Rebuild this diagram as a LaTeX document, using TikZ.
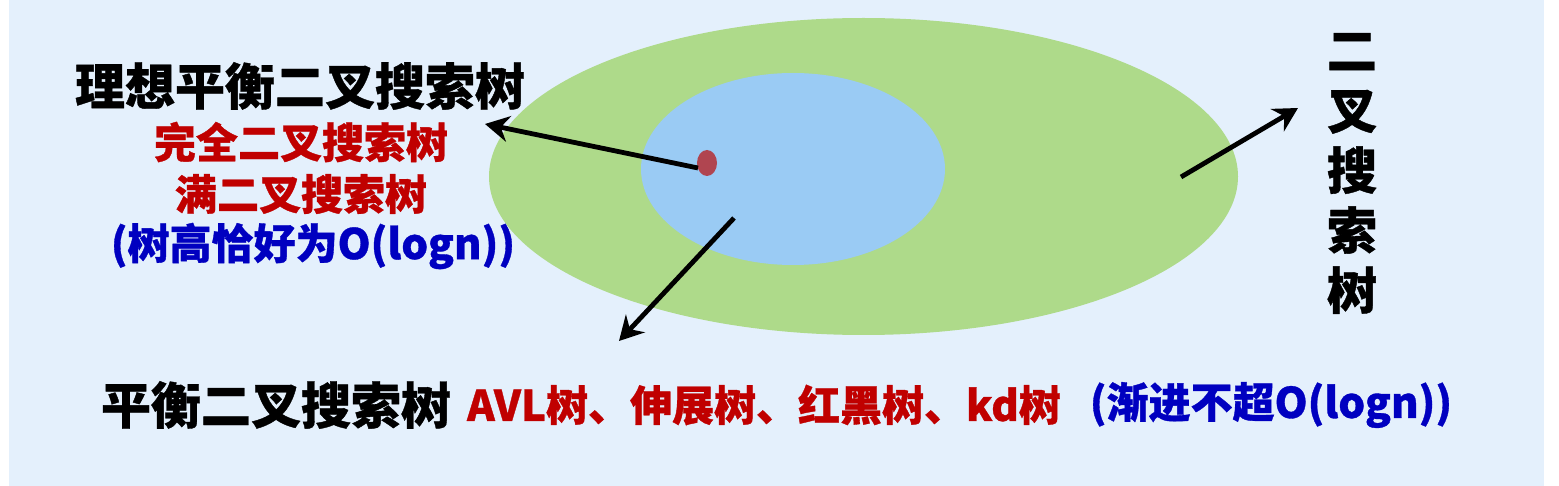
\documentclass[tikz,border=0pt]{standalone}
\usepackage{fontspec}
\setmainfont{Noto Sans CJK SC}[BoldFeatures={FakeBold=0.8}]
\usetikzlibrary{arrows.meta,shapes.geometric}
\definecolor{bgblue}{HTML}{E4F0FC}
\definecolor{outergreen}{HTML}{AEDA8A}
\definecolor{innerblue}{HTML}{9ACBF4}
\definecolor{dotred}{HTML}{B04550}
\definecolor{txtred}{HTML}{C00000}
\definecolor{txtblue}{HTML}{0000C0}
\tikzset{
  arr/.style={line width=2.4pt, -{Stealth[length=12pt,width=13pt,inset=4pt]}},
  bigtxt/.style={font=\fontsize{25}{30}\selectfont\bfseries, inner sep=0pt},
  midtxt/.style={font=\fontsize{21}{25}\selectfont\bfseries, inner sep=0pt},
  dotstyle/.style={ellipse, fill=dotred, inner sep=0pt, minimum width=10pt, minimum height=13pt},
}
\begin{document}
\begin{tikzpicture}[x=0.5pt,y=-0.5pt]
\useasboundingbox (0,0) rectangle (1559,486);
\fill[white] (0,0) rectangle (1559,486);
\fill[bgblue] (9,0) rectangle (1544,486);
% ellipses
\fill[outergreen] (863.5,176.5) ellipse [x radius=374.5, y radius=158.5];
\fill[innerblue] (793,169) ellipse [x radius=152, y radius=96];
\node[dotstyle] (dot) at (707,163) {};
% texts
\node[bigtxt] (ideal) at (300,86) {理想平衡二叉搜索树};
\node[midtxt, text=txtred] (complete) at (301,142) {完全二叉搜索树};
\node[midtxt, text=txtred] (full) at (301,194) {满二叉搜索树};
\node[midtxt, text=txtblue] (height) at (313,246) {(树高恰好为O(logn))};
\node[bigtxt, align=center] (bst) at (1352,173.5) {二\\叉\\搜\\索\\树};
\node[bigtxt] (bal) at (276,405) {平衡二叉搜索树};
\node[midtxt, text=txtred] (kinds) at (764,405) {AVL树、伸展树、红黑树、kd树};
\node[midtxt, text=txtblue] (asym) at (1271,405) {(渐进不超O(logn))};
% arrow endpoints
\coordinate (a1s) at (698,168);
\coordinate (a1e) at (485,124);
\coordinate (a2s) at (734,218);
\coordinate (a2e) at (619,341);
\coordinate (a3s) at (1181,177);
\coordinate (a3e) at (1298,108);
\draw[arr] (a1s) -- (a1e);
\draw[arr] (a2s) -- (a2e);
\draw[arr] (a3s) -- (a3e);
\end{tikzpicture}
\end{document}
